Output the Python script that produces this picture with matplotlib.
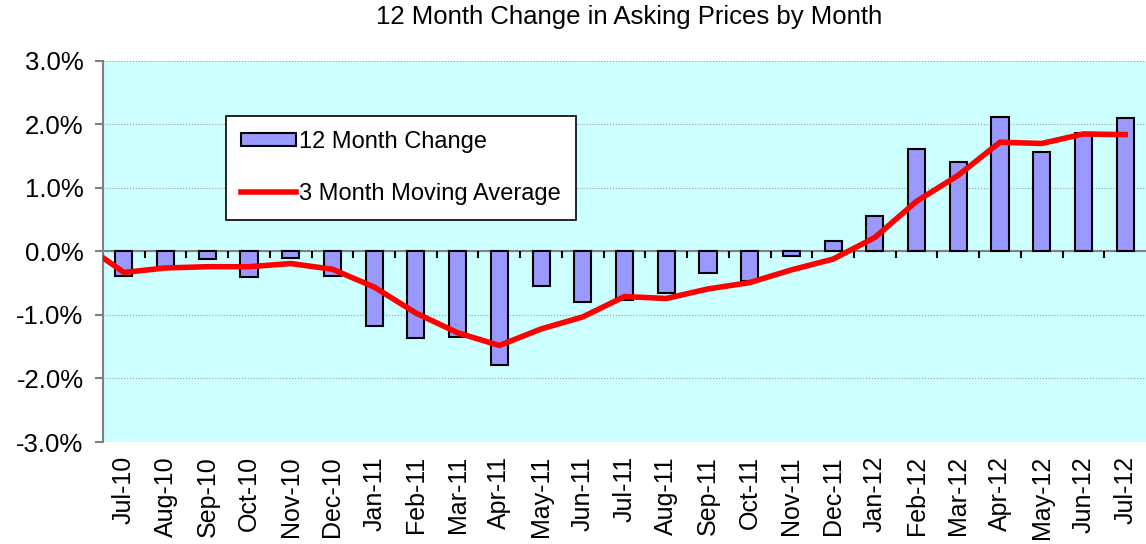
"""
12ヶ月の募集価格変化率（月別）
  - 棒: 前年同月比
  - 線: 3ヶ月移動平均
"""
import numpy as np
import matplotlib.pyplot as plt
from matplotlib.ticker import PercentFormatter

plt.rcParams["font.family"] = ["Liberation Sans", "DejaVu Sans"]
plt.rcParams["axes.unicode_minus"] = False

MONTHS = ["Jul-10", "Aug-10", "Sep-10", "Oct-10", "Nov-10", "Dec-10",
          "Jan-11", "Feb-11", "Mar-11", "Apr-11", "May-11", "Jun-11",
          "Jul-11", "Aug-11", "Sep-11", "Oct-11", "Nov-11", "Dec-11",
          "Jan-12", "Feb-12", "Mar-12", "Apr-12", "May-12", "Jun-12", "Jul-12"]

# 前年同月比 (%)
change = [-0.38, -0.25, -0.12, -0.40, -0.10, -0.38,
          -1.17, -1.36, -1.35, -1.78, -0.54, -0.80,
          -0.77, -0.65, -0.34, -0.46, -0.07, 0.16,
          0.56, 1.61, 1.41, 2.12, 1.56, 1.87, 2.10]

# 3ヶ月移動平均 (%)  先頭は Jun-10 の値（枠外）
ma_x = np.arange(-1, len(MONTHS))
ma3  = [0.13, -0.33, -0.26, -0.24, -0.24, -0.19, -0.28,
        -0.56, -0.97, -1.28, -1.48, -1.22, -1.03,
        -0.71, -0.74, -0.59, -0.49, -0.29, -0.12,
        0.22, 0.79, 1.20, 1.72, 1.70, 1.85, 1.84]

x = np.arange(len(MONTHS))

fig, ax = plt.subplots(figsize=(11.46, 5.44), dpi=100)
fig.subplots_adjust(left=0.0899, right=1.0, bottom=0.1875, top=0.888)
fig.suptitle("12 Month Change in Asking Prices by Month", fontsize=18.5, x=0.549, y=0.99)

ax.set_facecolor("#CCFFFF")
ax.grid(True, axis="y", color="#A0A0A0", linestyle=":", lw=0.8)
ax.set_axisbelow(True)

ax.axhline(0, color="#808080", lw=1.5, zorder=2)
ax.vlines(x[:-1] + 0.5, -0.1, 0, color="black", lw=1.5, zorder=2)  # 目盛り

bars = ax.bar(x, change, width=0.41, color="#9999FF", edgecolor="black", lw=1.5,
              zorder=3, label="12 Month Change")
line, = ax.plot(ma_x, ma3, color="red", lw=4, zorder=4, label="3 Month Moving Average")

ax.set_xlim(-0.5, len(MONTHS) - 0.5)
ax.set_ylim(-3, 3)
ax.set_yticks(np.arange(-3, 3.1, 1))
ax.yaxis.set_major_formatter(PercentFormatter(decimals=1))
ax.set_xticks(x)
ax.set_xticklabels(MONTHS, rotation=90, fontsize=18)
ax.tick_params(axis="x", length=0, pad=10)
ax.tick_params(axis="y", labelsize=18.5, length=6, color="#808080", width=1.5, pad=8)

for side in ["top", "right", "bottom"]:
    ax.spines[side].set_visible(False)
ax.spines["left"].set_color("#808080")
ax.spines["left"].set_linewidth(1.5)

leg = ax.legend([bars, line], ["12 Month Change", "3 Month Moving Average"],
                loc="upper left", bbox_to_anchor=(0.118, 0.856), fontsize=17,
                frameon=True, fancybox=False, framealpha=1, edgecolor="black",
                handlelength=2.3, handleheight=0.5, handletextpad=0.15,
                labelspacing=1.25, borderpad=0.65, borderaxespad=0)
leg.get_frame().set_linewidth(1.2)

plt.savefig("out.png", dpi=100)
